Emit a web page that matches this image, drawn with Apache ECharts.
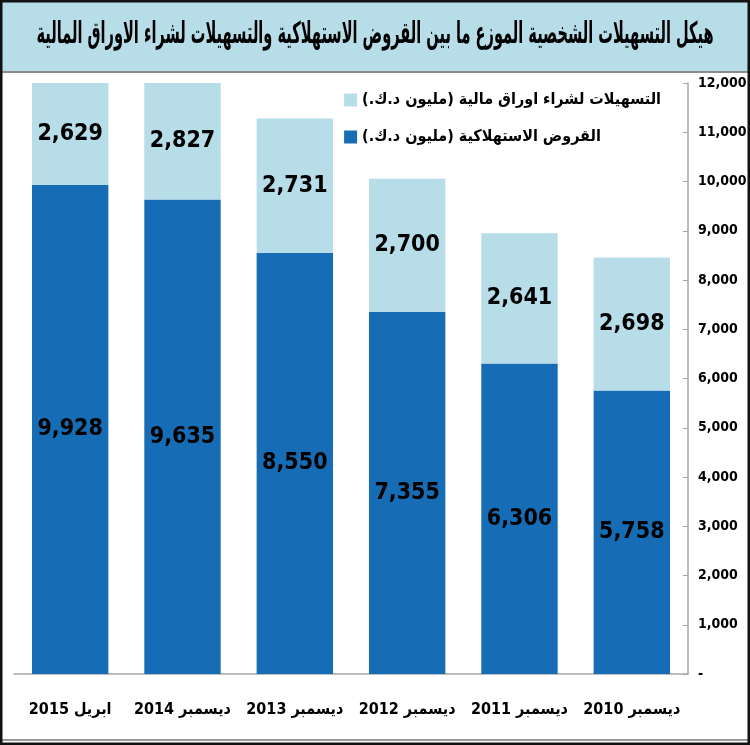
<!DOCTYPE html>
<html>
<head>
<meta charset="utf-8">
<script src="https://cdn.jsdelivr.net/npm/echarts@6/dist/echarts.min.js"></script>
<style>
html, body { margin: 0; padding: 0; background: #fff; }
#chart { width: 750px; height: 745px; }
</style>
</head>
<body>
<div id="chart"></div>
<script>
var titleText = 'هيكل التسهيلات الشخصية الموزع ما بين القروض الاستهلاكية والتسهيلات لشراء الاوراق المالية';
var categories = ['ابريل 2015', 'ديسمبر 2014', 'ديسمبر 2013', 'ديسمبر 2012', 'ديسمبر 2011', 'ديسمبر 2010'];
var loanName = 'القروض الاستهلاكية (مليون د.ك.)';
var stockName = 'التسهيلات لشراء اوراق مالية (مليون د.ك.)';
var loans = [9928, 9635, 8550, 7355, 6306, 5758];
var stocks = [2629, 2827, 2731, 2700, 2641, 2698];

var fontFam = '"DejaVu Sans Condensed", "Liberation Sans Narrow", sans-serif';
function rtl(s) { return '\u202B' + s + '\u202C'; }

var myChart = echarts.init(document.getElementById('chart'));
var option = {
	backgroundColor: '#ffffff',
	animation: false,
	textStyle: { fontFamily: fontFam },
	graphic: [
		{ type: 'rect', shape: { x: 0, y: 0, width: 750, height: 71 }, style: { fill: '#b7dde8' }, z: -10 },
		{ type: 'line', shape: { x1: 0, y1: 72, x2: 750, y2: 72 }, style: { stroke: '#8c8c8c', lineWidth: 2 } },
		{ type: 'line', shape: { x1: 0, y1: 740, x2: 750, y2: 740 }, style: { stroke: '#9a9a9a', lineWidth: 2 } },
		{ type: 'rect', shape: { x: 1, y: 1, width: 748, height: 743 }, style: { fill: 'none', stroke: '#111', lineWidth: 3 }, z: 100 },
		{
			type: 'text', x: 375, y: 35, scaleX: 0.54,
			style: {
				text: rtl(titleText), font: 'bold 30px ' + fontFam, fill: '#000',
				textAlign: 'center', textVerticalAlign: 'middle'
			}
		}
	],
	legend: {
		data: [stockName, loanName],
		orient: 'vertical',
		icon: 'rect',
		right: 84,
		top: 87,
		itemWidth: 13,
		itemHeight: 13,
		itemGap: 21,
		formatter: function(n) { return rtl(n); },
		textStyle: { fontSize: 16, fontWeight: 'bold', color: '#000', fontFamily: fontFam }
	},
	grid: { left: 14, right: 62, top: 83, bottom: 71 },
	xAxis: {
		type: 'category',
		data: categories,
		axisLine: { lineStyle: { color: '#a6a6a6', width: 1.5 } },
		axisTick: { length: 8, lineStyle: { color: '#a6a6a6', width: 1.5 } },
		axisLabel: {
			interval: 0,
			margin: 28,
			fontSize: 16,
			fontWeight: 'bold',
			color: '#000',
			fontFamily: fontFam,
			formatter: function(v) { return rtl(v); }
		}
	},
	yAxis: {
		type: 'value',
		position: 'right',
		min: 0,
		max: 12000,
		interval: 1000,
		splitLine: { show: false },
		axisLine: { show: true, lineStyle: { color: '#a6a6a6', width: 1.5 } },
		axisTick: { show: true, inside: true, length: 5, lineStyle: { color: '#a6a6a6' } },
		axisLabel: {
			margin: 10,
			fontSize: 14,
			fontWeight: 'bold',
			color: '#000',
			fontFamily: fontFam,
			formatter: function(v) { return v === 0 ? '-' : v.toLocaleString('en-US'); }
		}
	},
	series: [
		{
			name: loanName,
			type: 'bar',
			stack: 'total',
			data: loans,
			barCategoryGap: '32%',
			itemStyle: { color: '#176db5' },
			label: {
				show: true, position: 'inside', fontSize: 23, fontWeight: 'bold', color: '#000', fontFamily: fontFam,
				formatter: function(p) { return p.value.toLocaleString('en-US'); }
			}
		},
		{
			name: stockName,
			type: 'bar',
			stack: 'total',
			data: stocks,
			itemStyle: { color: '#b7dde8' },
			label: {
				show: true, position: 'inside', fontSize: 23, fontWeight: 'bold', color: '#000', fontFamily: fontFam,
				formatter: function(p) { return p.value.toLocaleString('en-US'); }
			}
		}
	]
};
myChart.setOption(option);
</script>
</body>
</html>
